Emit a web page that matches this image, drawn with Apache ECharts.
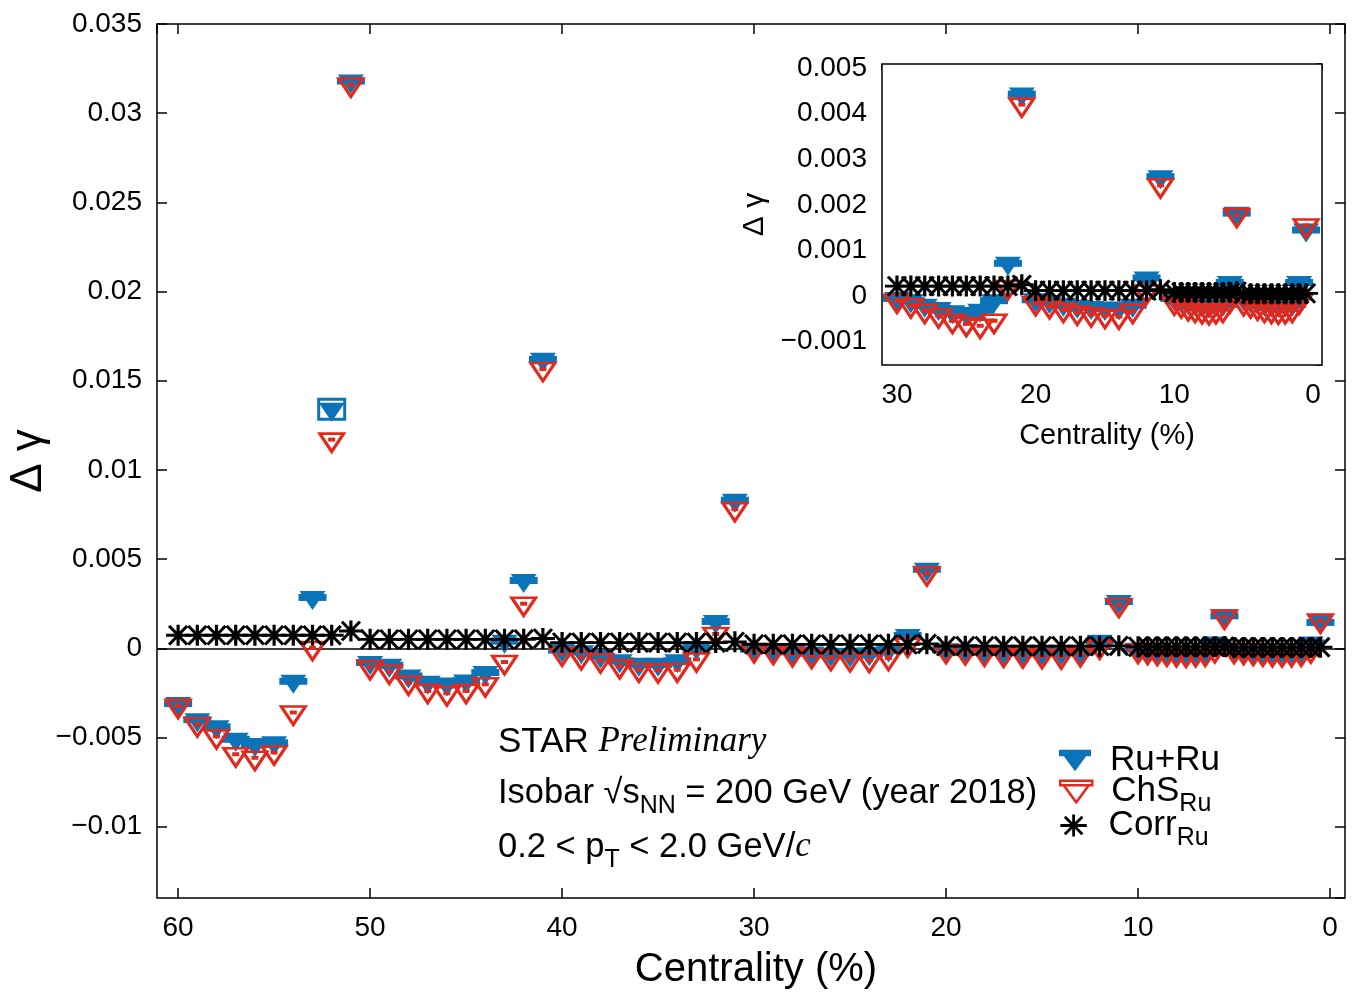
<!DOCTYPE html>
<html><head><meta charset="utf-8">
<script src="https://cdn.jsdelivr.net/npm/echarts@6/dist/echarts.min.js"></script>
<style>html,body{margin:0;padding:0;background:#fff}#c{width:1353px;height:994px}</style>
</head><body><div id="c"></div>
<script>
// ---------------- data ----------------
const centrality = [
 60,59,58,57,56,55,54,53,52,51,
 50,49,48,47,46,45,44,43,42,41,
 40,39,38,37,36,35,34,33,32,31,
 30,29,28,27,26,25,24,23,22,21,
 20,19,18,17,16,15,14,13,12,11,
 10,9.5,9,8.5,8,7.5,7,6.5,6,5.5,
 5,4.5,4,3.5,3,2.5,2,1.5,1,0.5];
const ruRu = [
 -0.0031,-0.0040,-0.0044,-0.0051,-0.0054,-0.0053,-0.00185,0.00285,0.0134,0.0318,
 -0.0008,-0.00095,-0.00155,-0.0019,-0.0020,-0.00183,-0.00136,0.0004,0.0038,0.0162,
 -0.0001,-0.0002,-0.00043,-0.0007,-0.0009,-0.0009,-0.0007,0.00004,0.0015,0.0083,
 -0.00005,-0.0001,-0.0002,-0.00027,-0.00034,-0.00038,-0.00031,-0.0001,0.00072,0.00443,
 -0.00008,-0.00012,-0.00018,-0.00022,-0.00025,-0.00027,-0.00026,-0.0002,0.0004,0.00262,
 -0.00005,-0.0001,-0.00014,-0.00018,-0.0002,-0.00022,-0.0002,-0.00018,0.0003,0.00182,
 -0.00006,-0.0001,-0.00014,-0.00017,-0.0002,-0.0002,-0.0002,-0.00018,0.0003,0.00145];
const ruRuSys = [
 0.00004,0.00004,0.00004,0.00004,0.00004,0.00004,0.00004,0.00004,0.00056,0.00004,
 0.00004,0.00004,0.00004,0.00004,0.00004,0.00004,0.00004,0.00004,0.00004,0.00004,
 0.00004,0.00004,0.00004,0.00004,0.00004,0.00004,0.00004,0.00004,0.00004,0.00004,
 0.00002,0.00002,0.00002,0.00002,0.00002,0.00002,0.00002,0.00002,0.00002,0.00002,
 0.00002,0.00002,0.00002,0.00002,0.00002,0.00002,0.00002,0.00002,0.00002,0.00002,
 0.00002,0.00002,0.00002,0.00002,0.00002,0.00002,0.00002,0.00002,0.00002,0.00002,
 0.00002,0.00002,0.00002,0.00002,0.00002,0.00002,0.00002,0.00002,0.00002,0.00002];
const chs = [
 -0.00323,-0.00426,-0.00494,-0.00594,-0.00614,-0.00584,-0.0036,0.00002,0.0117,0.0316,
 -0.00105,-0.0013,-0.00192,-0.00239,-0.00252,-0.00239,-0.00202,-0.00077,0.0025,0.01566,
 -0.0003,-0.0005,-0.00067,-0.001,-0.0012,-0.00123,-0.0012,-0.00062,0.0008,0.0078,
 -0.0001,-0.0002,-0.00032,-0.00042,-0.00054,-0.00061,-0.00065,-0.00054,0.0002,0.0042,
 -0.00015,-0.00022,-0.0003,-0.00036,-0.0004,-0.00043,-0.00045,-0.00032,0.0001,0.00243,
 -0.00014,-0.0002,-0.00026,-0.0003,-0.00033,-0.00035,-0.00033,-0.0003,-0.0001,0.00178,
 -0.00015,-0.0002,-0.00025,-0.0003,-0.00032,-0.00034,-0.00033,-0.0003,-0.00012,0.00155];
const corr = [
 0.00073,0.00073,0.00073,0.00073,0.00073,0.00073,0.00073,0.00073,0.00073,0.00097,
 0.0005,0.0005,0.0005,0.0005,0.0005,0.0005,0.0005,0.0005,0.0005,0.00055,
 0.00032,0.00032,0.00032,0.00032,0.00032,0.00032,0.00032,0.00032,0.00032,0.00036,
 0.00022,0.00022,0.00022,0.00022,0.00022,0.00022,0.00022,0.00022,0.00022,0.00025,
 0.00012,0.00012,0.00012,0.00012,0.00012,0.00012,0.00012,0.00012,0.00012,0.00014,
 0.00008,0.00008,0.00008,0.00008,0.00008,0.00008,0.00008,0.00008,0.00008,0.0001,
 0.00005,0.00005,0.00005,0.00005,0.00005,0.00005,0.00005,0.00005,0.00005,0.00006];
const insetMaxCentrality = 30;

// ---------------- style ----------------
const BLUE = '#0b74b8', RED = '#e4281c';
const SANS = '"Liberation Sans", Arial, Helvetica, sans-serif';
const SERIF = '"Liberation Serif", "Times New Roman", serif';
const TRI = 'path://M0,0L24,0L12,18Z';
const STAR = 'path://M0,10L24,10M12,0L12,20M3,1L21,19M3,19L21,1';

function fmtY(v){ const r = Math.round(v*1e7)/1e7; return r === 0 ? '0' : String(r).replace('-', '\u2212'); }
function fmtX(v){ return String(Math.round(v)); }

function pts(vals, filt){
  const out = [];
  for (let i = 0; i < centrality.length; i++) {
    if (filt && centrality[i] > insetMaxCentrality) continue;
    out.push([centrality[i], vals[i]]);
  }
  return out;
}
function sysPts(filt){
  const out = [];
  for (let i = 0; i < centrality.length; i++) {
    if (filt && centrality[i] > insetMaxCentrality) continue;
    out.push([centrality[i], ruRu[i], ruRuSys[i]]);
  }
  return out;
}
function sysRender(params, api){
  const x = api.value(0), y = api.value(1), s = api.value(2);
  const p1 = api.coord([x, y + s]), p2 = api.coord([x, y - s]);
  const h = p2[1] - p1[1];
  if (h < 9) {
    return {type:'rect', shape:{x:p1[0]-14, y:(p1[1]+p2[1])/2-3.5, width:28, height:7}, style:{fill:BLUE}};
  }
  return {type:'rect', shape:{x:p1[0]-13, y:p1[1], width:26, height:h}, style:{fill:'none', stroke:BLUE, lineWidth:3}};
}

function seriesFor(gi, filt){
  return [
    {type:'custom', name:'sys', xAxisIndex:gi*2, yAxisIndex:gi*2, renderItem:sysRender, data:sysPts(filt), z:3, silent:true},
    {type:'scatter', name:'Ru+Ru', xAxisIndex:gi*2, yAxisIndex:gi*2, symbol:TRI, symbolSize:[26,19], symbolOffset:[0,3],
     itemStyle:{color:BLUE, opacity:1}, data:pts(ruRu, filt), z:3, silent:true,
     markLine:{silent:true, symbol:'none', label:{show:false}, lineStyle:{color:'#000', width:1.5, type:'solid'}, data:[{yAxis:0}], z:1}},
    {type:'scatter', name:'ChS', xAxisIndex:gi*2, yAxisIndex:gi*2, symbol:TRI, symbolSize:[24,18], symbolOffset:[0,3],
     itemStyle:{color:'rgba(0,0,0,0)', borderColor:RED, borderWidth:3, opacity:1}, data:pts(chs, filt), z:4, silent:true},
    {type:'scatter', name:'chsSys', xAxisIndex:gi*2, yAxisIndex:gi*2, symbol:'rect', symbolSize:[7,4],
     itemStyle:{color:RED, opacity:1}, data:pts(chs, filt), z:5, silent:true},
    {type:'scatter', name:'Corr', xAxisIndex:gi*2, yAxisIndex:gi*2, symbol:STAR, symbolSize:[24,21],
     itemStyle:{color:'#000', borderColor:'#000', borderWidth:3, opacity:1}, data:pts(corr, filt), z:6, silent:true}
  ];
}

function xAx(gi, pos, min, max, split, tickLen, showLabel, name, nameSize, nameGap){
  return {type:'value', gridIndex:gi, position:pos, inverse:true, min:min, max:max, splitNumber:split,
    axisLine:{show:false, onZero:false}, splitLine:{show:false},
    axisTick:{show:true, inside:true, length:tickLen, lineStyle:{color:'#000', width:1.5}},
    axisLabel:{show:showLabel, fontSize:28, fontFamily:SANS, color:'#000', margin:16, formatter:fmtX, showMinLabel:false, showMaxLabel:false},
    name:name, nameLocation:'middle', nameGap:nameGap, nameMoveOverlap:false,
    nameTextStyle:{fontSize:nameSize, fontFamily:SANS, color:'#000', padding:[0,0,0,10]}};
}
function yAx(gi, pos, min, max, split, tickLen, showLabel, name, nameSize, nameGap, showMax){
  return {type:'value', gridIndex:gi, position:pos, min:min, max:max, splitNumber:split,
    axisLine:{show:false, onZero:false}, splitLine:{show:false},
    axisTick:{show:true, inside:true, length:tickLen, lineStyle:{color:'#000', width:1.5}},
    axisLabel:{show:showLabel, fontSize:28, fontFamily:SANS, color:'#000', margin:15, formatter:fmtY, showMinLabel:false, showMaxLabel:showMax},
    name:name, nameLocation:'middle', nameGap:nameGap, nameMoveOverlap:false,
    nameTextStyle:{fontSize:nameSize, fontFamily:SANS, color:'#000'}};
}

const subRich = {fontSize:25, fontFamily:SANS, padding:[13,0,-13,0]};
const legendText = {fontSize:35, fontFamily:SANS, color:'#000', lineHeight:33,
  rich:{s:Object.assign({lineHeight:33}, subRich), sp:{width:14, fontSize:35}}};
function legendFmt(n){ return n === 'Ru+Ru' ? '{sp| }Ru+Ru' : n === 'ChS' ? '{sp| }ChS{s|Ru}' : '{sp| }Corr{s|Ru}'; }
function oneLegend(item, top){
  return {orient:'vertical', left:1054, top:top, itemWidth:32, itemHeight:22, itemGap:0, selectedMode:false,
    data:[item], formatter:legendFmt, textStyle:legendText};
}

const chart = echarts.init(document.getElementById('c'), null, {renderer:'canvas'});
chart.setOption({
  animation:false,
  backgroundColor:'#fff',
  grid:[
    {left:157, top:24, width:1188, height:874, show:true, borderColor:'#000', borderWidth:1.5, backgroundColor:'rgba(0,0,0,0)', containLabel:false, outerBoundsMode:'none'},
    {left:882, top:64, width:440, height:301, show:true, borderColor:'#000', borderWidth:1.5, backgroundColor:'#fff', z:2, containLabel:false, outerBoundsMode:'none'}
  ],
  xAxis:[
    xAx(0,'bottom',-0.78,61.1,6,10,true,'Centrality (%)',40,52),
    xAx(0,'top',-0.78,61.1,6,10,false,'',10,10),
    xAx(1,'bottom',-0.65,31.08,3,6,true,'Centrality (%)',29,56),
    xAx(1,'top',-0.65,31.08,3,6,false,'',10,10)
  ],
  yAxis:[
    yAx(0,'left',-0.014,0.035,10,10,true,'\u0394 \u03b3',44,106,true),
    yAx(0,'right',-0.014,0.035,10,10,false,'',10,10,true),
    yAx(1,'left',-0.00151,0.00509,6,6,true,'\u0394 \u03b3',30,112,false),
    yAx(1,'right',-0.00151,0.00509,6,6,false,'',10,10,false)
  ],
  legend:[
    oneLegend({name:'Ru+Ru', icon:'path://M0,0L30,0L30,6L0,6Z M3,4L27,4L15,20Z', itemStyle:{color:BLUE, borderWidth:0}}, 738),
    oneLegend({name:'ChS', icon:'path://M1,1L29,1L29,5L1,5Z M4,5L26,5L15,20Z', itemStyle:{color:'rgba(0,0,0,0)', borderColor:RED, borderWidth:2.5}}, 769),
    oneLegend({name:'Corr', icon:'path://M0,10L24,10M12,0L12,20M4,2L20,18M4,18L20,2', itemStyle:{color:'#000', borderColor:'#000', borderWidth:2.8}}, 803)
  ],
  graphic:[
    {type:'text', x:498, y:742, z:100, style:{text:'STAR {i|Preliminary}', fontSize:35, fontFamily:SANS, fill:'#000', verticalAlign:'middle',
      rich:{i:{fontFamily:SERIF, fontStyle:'italic', fontSize:35}}}},
    {type:'text', x:498, y:793, z:100, style:{text:'Isobar \u221as{s|NN} = 200 GeV (year 2018)', fontSize:34.5, fontFamily:SANS, fill:'#000', verticalAlign:'middle',
      rich:{s:subRich}}},
    {type:'text', x:498, y:847, z:100, style:{text:'0.2 < p{s|T} < 2.0 GeV/{i|c}', fontSize:34.5, fontFamily:SANS, fill:'#000', verticalAlign:'middle',
      rich:{s:subRich, i:{fontFamily:SERIF, fontStyle:'italic', fontSize:35}}}}
  ],
  series:[].concat(seriesFor(0,false), seriesFor(1,true))
});
</script></body></html>
